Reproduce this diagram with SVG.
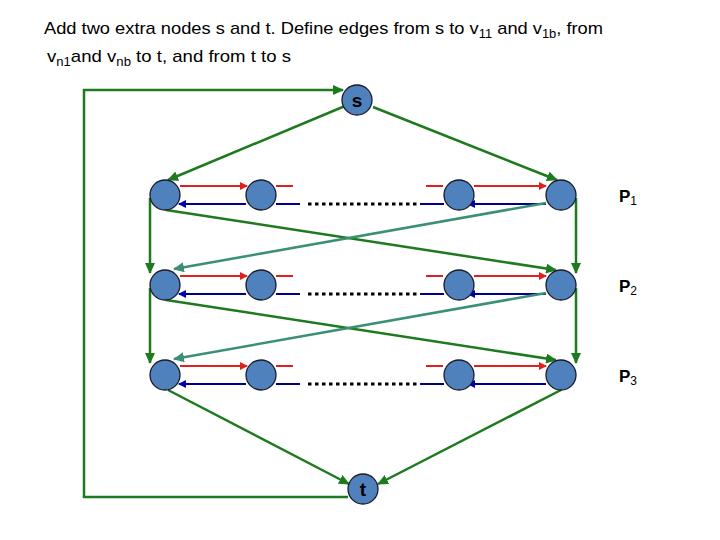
<svg xmlns="http://www.w3.org/2000/svg" width="720" height="540" viewBox="0 0 720 540">
<defs>
<style>
.title{font-family:"Liberation Sans",Arial,sans-serif;font-size:17px;fill:#000}
.node{fill:#4F81BD;stroke:#1a1a2a;stroke-width:1.3}
.lbl{font-family:"Liberation Sans",Arial,sans-serif;font-weight:bold;font-size:17px;fill:#000}
.nl{font-family:"Liberation Sans",Arial,sans-serif;font-weight:bold;font-size:19px;fill:#000}
.red{stroke:#E0201E;stroke-width:2;fill:none}
.blue{stroke:#000090;stroke-width:2;fill:none}
.green{stroke:#1E7A1E;stroke-width:2.5;fill:none}
.teal{stroke:#3A8F74;stroke-width:2.5;fill:none}
.dots{stroke:#000;stroke-width:3;stroke-dasharray:3.5 3.5;fill:none}
</style>
<marker id="ar" markerWidth="8" markerHeight="8" refX="7" refY="4" orient="auto" markerUnits="userSpaceOnUse"><path d="M0,0 L8,4 L0,8 z" fill="#E0201E"/></marker>
<marker id="ab" markerWidth="8" markerHeight="8" refX="7" refY="4" orient="auto" markerUnits="userSpaceOnUse"><path d="M0,0 L8,4 L0,8 z" fill="#0000B0"/></marker>
<marker id="ag" markerWidth="11" markerHeight="10" refX="10" refY="5" orient="auto" markerUnits="userSpaceOnUse"><path d="M0,0 L11,5 L0,10 z" fill="#1E7A1E"/></marker>
<marker id="at" markerWidth="11" markerHeight="10" refX="10" refY="5" orient="auto" markerUnits="userSpaceOnUse"><path d="M0,0 L11,5 L0,10 z" fill="#3A8F74"/></marker>
</defs>
<rect width="720" height="540" fill="#fff"/>
<g id="title">
<text class="title" x="44" y="34" textLength="559" lengthAdjust="spacingAndGlyphs">Add two extra nodes s and t. Define edges from s to v<tspan font-size="12" dy="4">11</tspan><tspan dy="-4"> and v</tspan><tspan font-size="12" dy="4">1b</tspan><tspan dy="-4">, from</tspan></text>
<text class="title" x="47" y="62" textLength="244" lengthAdjust="spacingAndGlyphs">v<tspan font-size="12" dy="4">n1</tspan><tspan dy="-4">and v</tspan><tspan font-size="12" dy="4">nb</tspan><tspan dy="-4"> to t, and from t to s</tspan></text>
</g>
<g id="connectors">
<line class="red" x1="180" y1="186" x2="247" y2="186" marker-end="url(#ar)"/>
<line class="red" x1="276" y1="186" x2="293" y2="186"/>
<line class="blue" x1="246" y1="204" x2="179" y2="204" marker-end="url(#ab)"/>
<line class="blue" x1="276" y1="204" x2="300" y2="204"/>
<line class="dots" x1="308" y1="204" x2="420" y2="204"/>
<line class="blue" x1="420" y1="204" x2="444" y2="204"/>
<line class="red" x1="426" y1="186" x2="443" y2="186"/>
<line class="red" x1="474" y1="186" x2="546" y2="186" marker-end="url(#ar)"/>
<line class="blue" x1="546" y1="204" x2="468" y2="204" marker-end="url(#ab)"/>
<line class="red" x1="180" y1="276" x2="247" y2="276" marker-end="url(#ar)"/>
<line class="red" x1="276" y1="276" x2="293" y2="276"/>
<line class="blue" x1="246" y1="294" x2="179" y2="294" marker-end="url(#ab)"/>
<line class="blue" x1="276" y1="294" x2="300" y2="294"/>
<line class="dots" x1="308" y1="294" x2="420" y2="294"/>
<line class="blue" x1="420" y1="294" x2="444" y2="294"/>
<line class="red" x1="426" y1="276" x2="443" y2="276"/>
<line class="red" x1="474" y1="276" x2="546" y2="276" marker-end="url(#ar)"/>
<line class="blue" x1="546" y1="294" x2="468" y2="294" marker-end="url(#ab)"/>
<line class="red" x1="180" y1="366" x2="247" y2="366" marker-end="url(#ar)"/>
<line class="red" x1="276" y1="366" x2="293" y2="366"/>
<line class="blue" x1="246" y1="384" x2="179" y2="384" marker-end="url(#ab)"/>
<line class="blue" x1="276" y1="384" x2="300" y2="384"/>
<line class="dots" x1="308" y1="384" x2="420" y2="384"/>
<line class="blue" x1="420" y1="384" x2="444" y2="384"/>
<line class="red" x1="426" y1="366" x2="443" y2="366"/>
<line class="red" x1="474" y1="366" x2="546" y2="366" marker-end="url(#ar)"/>
<line class="blue" x1="546" y1="384" x2="468" y2="384" marker-end="url(#ab)"/>
<line class="green" x1="345" y1="106" x2="168" y2="180" marker-end="url(#ag)"/>
<line class="green" x1="373" y1="107" x2="557" y2="180" marker-end="url(#ag)"/>
<line class="green" x1="150" y1="198" x2="150" y2="273" marker-end="url(#ag)"/>
<line class="green" x1="150" y1="288" x2="150" y2="363" marker-end="url(#ag)"/>
<line class="green" x1="576" y1="198" x2="576" y2="273" marker-end="url(#ag)"/>
<line class="green" x1="576" y1="288" x2="576" y2="363" marker-end="url(#ag)"/>
<line class="green" x1="166" y1="210" x2="556" y2="270" marker-end="url(#ag)"/>
<line class="teal" x1="546" y1="203" x2="174" y2="269" marker-end="url(#at)"/>
<line class="green" x1="166" y1="300" x2="556" y2="360" marker-end="url(#ag)"/>
<line class="teal" x1="546" y1="293" x2="174" y2="359" marker-end="url(#at)"/>
<line class="green" x1="168" y1="390" x2="349" y2="484" marker-end="url(#ag)"/>
<line class="green" x1="561" y1="390" x2="378" y2="484" marker-end="url(#ag)"/>
<polyline class="green" points="348,497 84,497 84,90 343,90" marker-end="url(#ag)"/>
</g>
<g id="s"><circle class="node" cx="357" cy="100" r="15"/><text class="nl" x="357" y="107" text-anchor="middle">s</text></g>
<g id="t"><circle class="node" cx="363" cy="489" r="15"/><text class="nl" x="363" y="496" text-anchor="middle">t</text></g>
<g id="v11"><circle class="node" cx="165" cy="195" r="15"/></g>
<g id="v12"><circle class="node" cx="261" cy="195" r="15"/></g>
<g id="v13"><circle class="node" cx="459" cy="195" r="15"/></g>
<g id="v1b"><circle class="node" cx="561" cy="195" r="15"/></g>
<g id="v21"><circle class="node" cx="165" cy="285" r="15"/></g>
<g id="v22"><circle class="node" cx="261" cy="285" r="15"/></g>
<g id="v23"><circle class="node" cx="459" cy="285" r="15"/></g>
<g id="v2b"><circle class="node" cx="561" cy="285" r="15"/></g>
<g id="v31"><circle class="node" cx="165" cy="375" r="15"/></g>
<g id="v32"><circle class="node" cx="261" cy="375" r="15"/></g>
<g id="v33"><circle class="node" cx="459" cy="375" r="15"/></g>
<g id="v3b"><circle class="node" cx="561" cy="375" r="15"/></g>
<g id="P1"><text class="lbl" x="619" y="202">P<tspan font-size="12" font-weight="normal" dy="3">1</tspan></text></g>
<g id="P2"><text class="lbl" x="619" y="292">P<tspan font-size="12" font-weight="normal" dy="3">2</tspan></text></g>
<g id="P3"><text class="lbl" x="619" y="382">P<tspan font-size="12" font-weight="normal" dy="3">3</tspan></text></g>
</svg>
